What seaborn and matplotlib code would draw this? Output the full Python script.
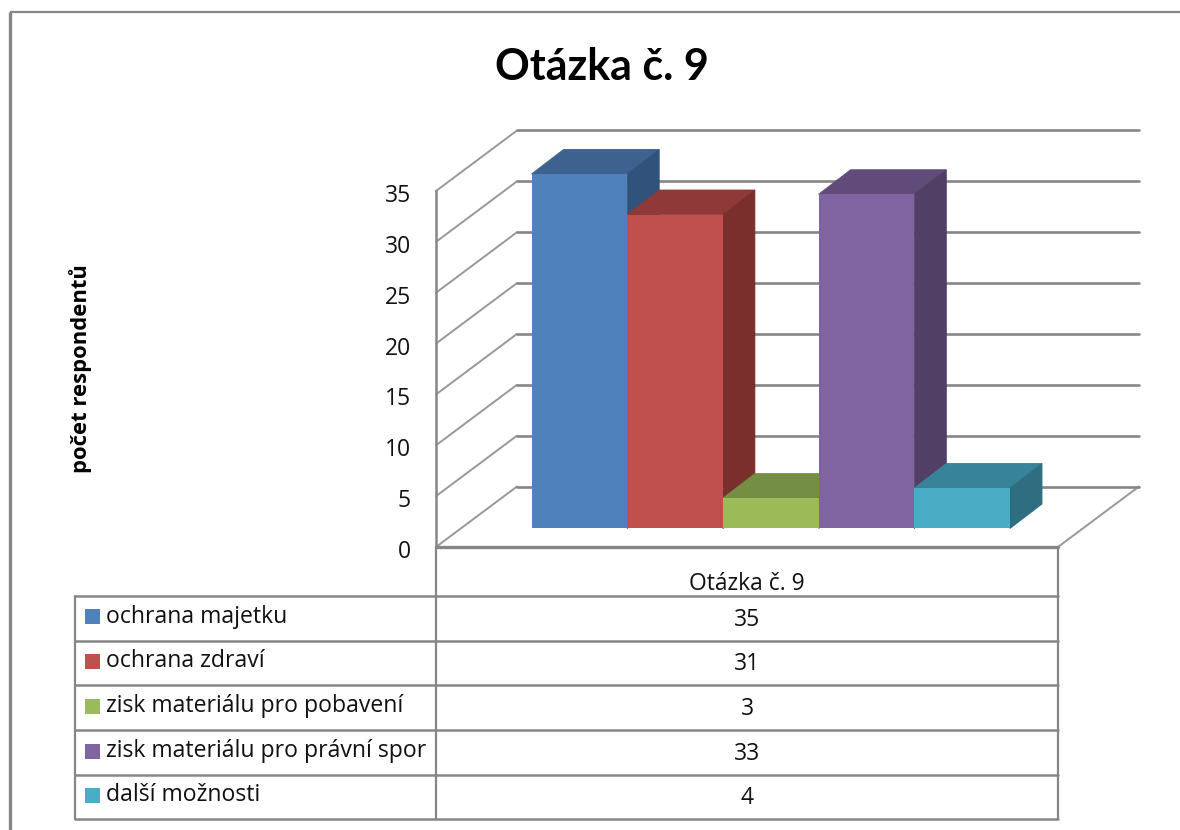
import matplotlib
matplotlib.use('Agg')
import matplotlib.pyplot as plt
from matplotlib.patches import Polygon, Rectangle
from matplotlib.transforms import ScaledTranslation
import seaborn as sns
import pandas as pd

# Data
categories = ['ochrana majetku', 'ochrana zdraví', 'zisk materiálu pro pobavení',
              'zisk materiálu pro právní spor', 'další možnosti']
values = [35, 31, 3, 33, 4]
colors = ['#4F81BD', '#C0504D', '#9BBB59', '#8064A2', '#4BACC6']
top_colors = ['#3E628F', '#8F3A38', '#748E43', '#604B7B', '#37839A']
side_colors = ['#31527A', '#7A2F2D', '#627838', '#523F66', '#2F6D80']
y_ticks = [0, 5, 10, 15, 20, 25, 30, 35]
series_name = 'Otázka č. 9'

W, H = 1180, 830
GREY = '#868686'
TEXT_FONT = ['Open Sans', 'DejaVu Sans']

sns.set_theme(style='white')
plt.rcParams['font.family'] = ['Lato', 'DejaVu Sans']


def add_axes_px(fig, left, top, right, bottom):
    return fig.add_axes([left / W, 1 - bottom / H, (right - left) / W, (bottom - top) / H])


fig = plt.figure(figsize=(W / 100, H / 100), dpi=100, facecolor='white')

# Page layer: outer border, table grid, text
page = add_axes_px(fig, 0, 0, W, H)
page.set_xlim(0, W)
page.set_ylim(H, 0)
page.axis('off')

page.plot([10, 10], [H, 12], color=GREY, lw=2.4, solid_capstyle='butt')
page.plot([10, W], [12.5, 12.5], color=GREY, lw=1.6, solid_capstyle='butt')
page.text(602, 67, series_name, fontsize=31, fontweight='bold', color='black', ha='center', va='center')
page.text(81, 369, 'počet respondentů', fontsize=15.8, fontweight='bold', rotation=90,
          color='black', ha='center', va='center', family=TEXT_FONT)

# Data table
row_y = [596, 640.5, 685, 730, 775, 818.5]
col_x = [75, 436, 1058]
for y in row_y:
    page.plot([col_x[0], col_x[2]], [y, y], color=GREY, lw=1.8)
page.plot([col_x[0], col_x[0]], [row_y[0], row_y[-1]], color=GREY, lw=1.6)
page.plot([col_x[1], col_x[1]], [547, row_y[-1]], color=GREY, lw=1.6)
page.plot([col_x[2], col_x[2]], [547, row_y[-1]], color=GREY, lw=1.6)
page.text(747, 584, series_name, fontsize=16.5, color='#111111', ha='center', va='center', family=TEXT_FONT)
for i, (name, val, c) in enumerate(zip(categories, values, colors)):
    mid = (row_y[i] + row_y[i + 1]) / 2
    page.add_patch(Rectangle((85, mid - 9), 15, 15, facecolor=c, edgecolor='none'))
    page.text(106, mid - 1.5, name, fontsize=16.6, color='#111111', ha='left', va='center', family=TEXT_FONT)
    page.text(747, mid + 1.5, str(val), fontsize=16.5, color='#111111', ha='center', va='center', family=TEXT_FONT)

# Walls and floor, on the value scale of the front axis
wall = add_axes_px(fig, 436, 191, 1058, 547)
wall.patch.set_alpha(0)
wall.set_xlim(0, 1)
wall.set_ylim(0, 35)
wall.set_xticks([])
wall.set_yticks(y_ticks)
wall.tick_params(axis='y', length=0, pad=18, labelsize=16.5, labelcolor='#111111')
for label in wall.get_yticklabels():
    label.set_fontfamily(TEXT_FONT)
    label.set_transform(label.get_transform() + ScaledTranslation(0, -2 / 100, fig.dpi_scale_trans))
for s in ['top', 'right', 'bottom']:
    wall.spines[s].set_visible(False)
wall.spines['left'].set_color(GREY)
wall.spines['left'].set_linewidth(1.8)

back_dx = 81 / 622
back_dy = 60.5 / (356 / 35)
for t in y_ticks:
    wall.plot([0, back_dx], [t, t + back_dy], color=GREY, lw=1.4, alpha=0.85, clip_on=False)
    wall.plot([back_dx, 1 + back_dx], [t + back_dy, t + back_dy], color=GREY, lw=1.9, clip_on=False)
wall.plot([0, 1], [0, 0], color=GREY, lw=2.4, clip_on=False)
wall.plot([1, 1 + back_dx], [0, back_dy], color=GREY, lw=1.4, alpha=0.85, clip_on=False)

# Bars
ax = add_axes_px(fig, 531.5, 174, 1010, 528.5)
ax.patch.set_alpha(0)
df = pd.DataFrame({'category': categories, 'value': values})
sns.barplot(data=df, x='category', y='value', hue='category', palette=colors, hue_order=categories,
            order=categories, width=1, saturation=1, legend=False, linewidth=0, ax=ax)
ax.set_xlim(-0.5, 4.5)
ax.set_ylim(0, 35)
ax.axis('off')

# Extrude each front face into a top and a side
depth_dx = 32 / (478.5 / 5)
depth_dy = 24.5 / (354.5 / 35)
for i, bar in enumerate(ax.patches):
    x0, w, h = bar.get_x(), bar.get_width(), bar.get_height()
    x1 = x0 + w
    z = 3 + i
    ax.add_patch(Polygon([(x0, h), (x1, h), (x1 + depth_dx, h + depth_dy), (x0 + depth_dx, h + depth_dy)],
                         facecolor=top_colors[i], edgecolor=top_colors[i], lw=0.6, clip_on=False, zorder=z))
    ax.add_patch(Polygon([(x1, 0), (x1 + depth_dx, depth_dy), (x1 + depth_dx, h + depth_dy), (x1, h)],
                         facecolor=side_colors[i], edgecolor=side_colors[i], lw=0.6, clip_on=False, zorder=z))
    bar.set_zorder(z + 0.5)

fig.savefig('out.png', dpi=100)
